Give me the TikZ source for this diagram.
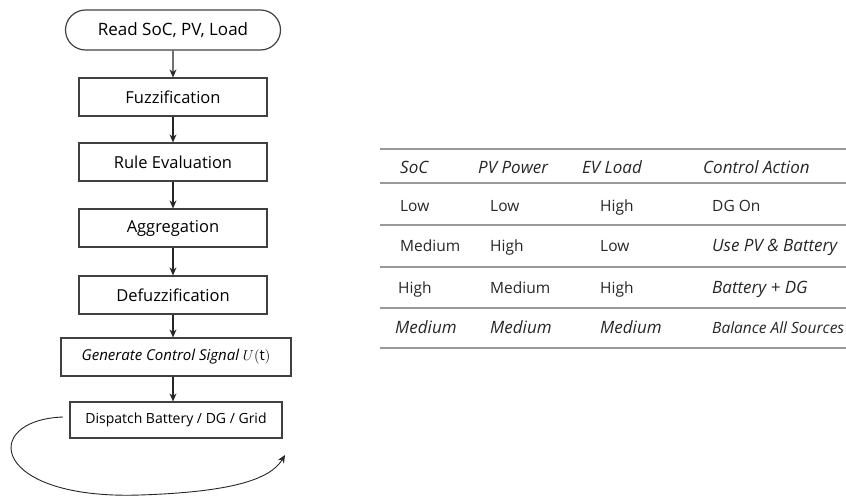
\documentclass[tikz,border=0pt]{standalone}
\usepackage{fontspec}
\setmainfont{Open Sans}
\usetikzlibrary{arrows.meta,shapes.misc}
\begin{document}
\begin{tikzpicture}[x=1pt,y=-1pt,
  box/.style={draw=black!75,line width=1.2pt,minimum height=38pt,inner sep=0pt,text=black,font=\fontsize{16.5}{18}\selectfont},
  term/.style={box,rounded rectangle},
  arr/.style={-{Stealth[length=8pt,width=7pt]},line width=1.1pt,draw=black!85},
  rule/.style={draw=black!40,line width=2pt},
  cell/.style={anchor=base west,inner sep=0pt,font=\fontsize{15.5}{17}\selectfont,text=black!85},
  icell/.style={cell,font=\fontsize{17}{19}\selectfont\itshape}]
\useasboundingbox (0,0) rectangle (846,498);
\node[term,minimum width=215pt,minimum height=40pt,font=\fontsize{17}{19}\selectfont] (n0) at (173,30) {Read SoC, PV, Load};
\node[box,minimum width=188pt] (n1) at (173,97) {Fuzzification};
\node[box,minimum width=188pt] (n2) at (173,162) {Rule Evaluation};
\node[box,minimum width=188pt] (n3) at (173,228) {Aggregation};
\node[box,minimum width=188pt] (n4) at (173,295) {Defuzzification};
\node[box,minimum width=230pt,font=\fontsize{15}{17}\selectfont] (n5) at (176,357) {\itshape Generate Control Signal $U(\mathrm{t})$};
\node[box,minimum width=212pt,minimum height=36pt,font=\fontsize{14}{16}\selectfont] (n6) at (176,420) {Dispatch Battery / DG / Grid};
\draw[arr] (n0) -- (n1);
\draw[arr] (n1) -- (n2);
\draw[arr] (n2) -- (n3);
\draw[arr] (n3) -- (n4);
\draw[arr] (n4.south) -- (n4.south |- n5.north);
\draw[arr] (n4.south |- n5.south) -- (n4.south |- n6.north);
\coordinate (ls) at (63,417);
\coordinate (le) at (285,455);
\draw[arr,line width=0.9pt] (ls) .. controls (-20,420) and (-10,500) .. (140,495) .. controls (230,492) and (270,480) .. (le);
% table
\foreach \yy in {149,183,225,267,308,348} \draw[rule] (380,\yy) -- (846,\yy);
\node[icell] (h1) at (400,173) {SoC};
\node[icell] (h2) at (478,173) {PV Power};
\node[icell] (h3) at (582,173) {EV Load};
\node[icell] (h4) at (703,173) {Control Action};
\node[cell] (a1) at (400,211) {Low};
\node[cell] (a2) at (490,211) {Low};
\node[cell] (a3) at (600,211) {High};
\node[cell] (a4) at (712,211) {DG On};
\node[cell] (b1) at (400,251) {Medium};
\node[cell] (b2) at (490,251) {High};
\node[cell] (b3) at (600,251) {Low};
\node[icell] (b4) at (712,251) {Use PV \& Battery};
\node[cell] (c1) at (398,293) {High};
\node[cell] (c2) at (490,293) {Medium};
\node[cell] (c3) at (600,293) {High};
\node[icell] (c4) at (712,293) {Battery + DG};
\node[icell] (d1) at (395,333) {Medium};
\node[icell] (d2) at (490,333) {Medium};
\node[icell] (d3) at (600,333) {Medium};
\node[icell,font=\fontsize{15.5}{17}\selectfont\itshape] (d4) at (712,333) {Balance All Sources};
\end{tikzpicture}
\end{document}
